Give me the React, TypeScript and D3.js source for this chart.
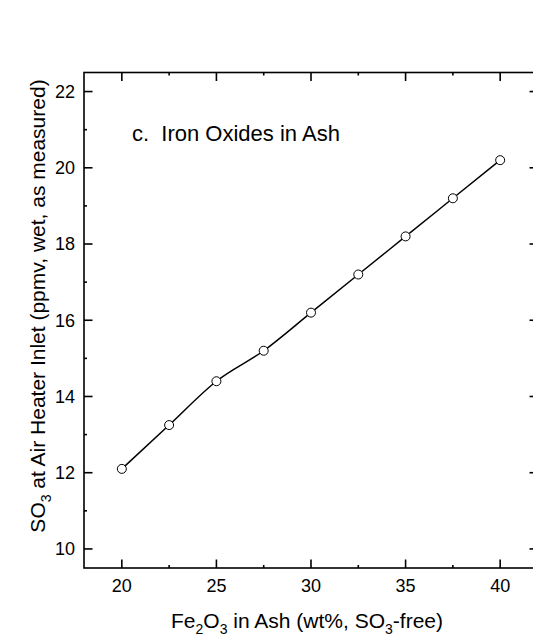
import React from 'react';
import * as d3 from 'd3';

const feValues = [20, 22.5, 25, 27.5, 30, 32.5, 35, 37.5, 40];
const so3Values = [12.1, 13.25, 14.4, 15.2, 16.2, 17.2, 18.2, 19.2, 20.2];
const xTicks = [20, 25, 30, 35, 40];
const xMinorTicks = [22.5, 27.5, 32.5, 37.5];
const yTicks = [10, 12, 14, 16, 18, 20, 22];
const yMinorTicks = [11, 13, 15, 17, 19, 21];
const annotation = 'c.  Iron Oxides in Ash';

const W = 533;
const H = 640;
const FONT = '"Liberation Sans", Arial, sans-serif';

export default function App() {
  const left = 84, right = 538, top = 72.5, bottom = 568;
  const x = d3.scaleLinear().domain([18, 42]).range([left, right]);
  const y = d3.scaleLinear().domain([9.5, 22.5]).range([bottom, top]);
  const pts = feValues.map((v, i) => [v, so3Values[i]] as [number, number]);
  const line = d3.line<[number, number]>().x(d => x(d[0])).y(d => y(d[1])).curve(d3.curveMonotoneX);
  const major = 8.5, minor = 3;
  const sw = 1.6;
  return (
    <svg width={W} height={H} style={{ position: 'absolute', left: 0, top: 0, background: '#fff' }} fontFamily={FONT}>
      <rect x={0} y={0} width={W} height={H} fill="#fff" />
      {xTicks.map(t => (
        <g key={'xt' + t}>
          <line x1={x(t)} x2={x(t)} y1={bottom} y2={bottom - major} stroke="#000" strokeWidth={sw} />
          <line x1={x(t)} x2={x(t)} y1={top} y2={top + major} stroke="#000" strokeWidth={sw} />
          <text x={x(t)} y={592} textAnchor="middle" fontSize={18} fill="#000">{t}</text>
        </g>
      ))}
      {xMinorTicks.map(t => (
        <g key={'xm' + t}>
          <line x1={x(t)} x2={x(t)} y1={bottom} y2={bottom - minor} stroke="#000" strokeWidth={sw} />
          <line x1={x(t)} x2={x(t)} y1={top} y2={top + minor} stroke="#000" strokeWidth={sw} />
        </g>
      ))}
      {yTicks.map(t => (
        <g key={'yt' + t}>
          <line x1={left} x2={left + major} y1={y(t)} y2={y(t)} stroke="#000" strokeWidth={sw} />
          <line x1={right} x2={right - major} y1={y(t)} y2={y(t)} stroke="#000" strokeWidth={sw} />
          <text x={75} y={y(t)} dy="0.35em" textAnchor="end" fontSize={18} fill="#000">{t}</text>
        </g>
      ))}
      {yMinorTicks.map(t => (
        <g key={'ym' + t}>
          <line x1={left} x2={left + minor} y1={y(t)} y2={y(t)} stroke="#000" strokeWidth={sw} />
          <line x1={right} x2={right - minor} y1={y(t)} y2={y(t)} stroke="#000" strokeWidth={sw} />
        </g>
      ))}
      <rect x={left} y={top} width={right - left} height={bottom - top} fill="none" stroke="#000" strokeWidth={sw} />
      <path d={line(pts) || ''} fill="none" stroke="#000" strokeWidth={1.5} />
      {pts.map((p, i) => (
        <circle key={'p' + i} cx={x(p[0])} cy={y(p[1])} r={4.5} fill="#fff" stroke="#000" strokeWidth={1} />
      ))}
      <text x={132} y={141} fontSize={22} fill="#000" style={{ whiteSpace: 'pre' }}>{annotation}</text>
      <text x={307} y={628} textAnchor="middle" fontSize={21} fill="#000">
        <tspan>Fe</tspan>
        <tspan fontSize={14} dy={6}>2</tspan>
        <tspan dy={-6}>O</tspan>
        <tspan fontSize={14} dy={6}>3</tspan>
        <tspan dy={-6} style={{ whiteSpace: 'pre' }}> in Ash (wt%, SO</tspan>
        <tspan fontSize={14} dy={6}>3</tspan>
        <tspan dy={-6}>-free)</tspan>
      </text>
      <text transform={`translate(45, 306) rotate(-90)`} textAnchor="middle" fontSize={21} fill="#000">
        <tspan>SO</tspan>
        <tspan fontSize={14} dy={6}>3</tspan>
        <tspan dy={-6} style={{ whiteSpace: 'pre' }}> at Air Heater Inlet (ppmv, wet, as measured)</tspan>
      </text>
    </svg>
  );
}
